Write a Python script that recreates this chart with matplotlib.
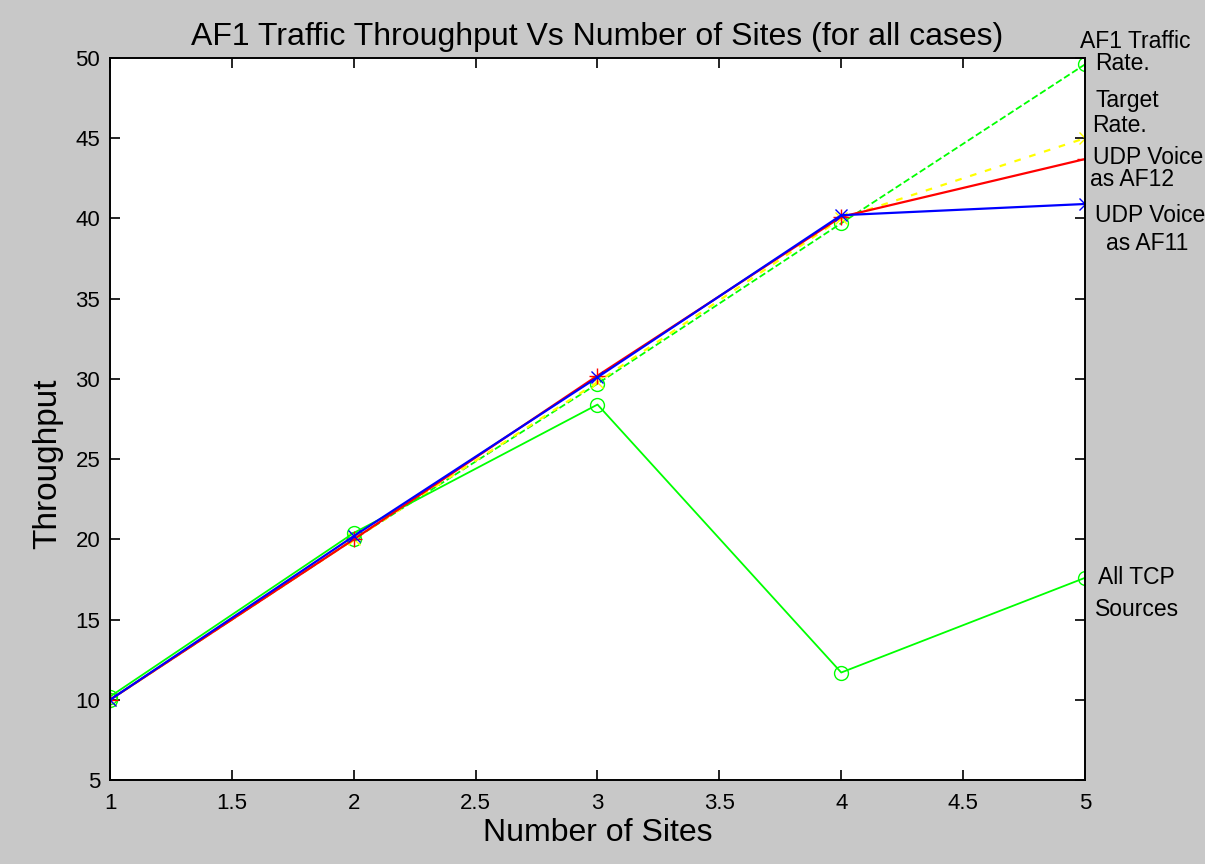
import matplotlib
matplotlib.use("Agg")
import matplotlib.pyplot as plt

plt.rcParams['font.family'] = ['Liberation Sans', 'DejaVu Sans']

sites = [1, 2, 3, 4, 5]
af1_rate = [10, 20, 29.7, 39.7, 49.6]
target_rate = [10, 20, 29.8, 40, 45]
udp_af12 = [10, 20, 30.2, 40.1, 43.7]
udp_af11 = [10, 20.2, 30.1, 40.2, 40.9]
all_tcp = [10.2, 20.4, 28.4, 11.7, 17.6]

# labels at right side: (text, x px, y px of center)
right_labels = [
    ('AF1 Traffic', 1080, 42), ('Rate.', 1095, 63),
    ('Target', 1095, 100), ('Rate.', 1092, 126),
    ('UDP Voice', 1093, 158), ('as AF12', 1090, 180),
    ('UDP Voice', 1095, 216), ('as AF11', 1106, 243),
    ('All TCP', 1098, 577), ('Sources', 1095, 609),
]

W, H = 1205, 864
fig = plt.figure(figsize=(W / 100, H / 100), dpi=100)
fig.patch.set_facecolor('#c8c8c8')
ax = fig.add_axes([0.0913, 0.0972, 0.8091, 0.8357])
ax.set_facecolor('white')

ax.plot(sites, af1_rate, color='#00ff00', linestyle='--', marker='o', markersize=10,
        markerfacecolor='none', linewidth=1.3)
ax.plot(sites, target_rate, color='#ffff00', linestyle=(0, (3, 4)), marker='x', markersize=9,
        linewidth=1.6)
ax.plot(sites, all_tcp, color='#00ff00', linestyle='-', marker='o', markersize=10,
        markerfacecolor='none', linewidth=1.3)
ax.plot(sites, udp_af12, color='#ff0000', linestyle='-', marker='+', markersize=11,
        linewidth=1.6)
ax.plot(sites, udp_af11, color='#0000ff', linestyle='-', marker='x', markersize=8,
        linewidth=1.6)

ax.set_xlim(1, 5)
ax.set_ylim(5, 50)
ax.set_xticks([1, 1.5, 2, 2.5, 3, 3.5, 4, 4.5, 5])
ax.set_xticklabels(['1', '1.5', '2', '2.5', '3', '3.5', '4', '4.5', '5'])
ax.set_yticks(range(5, 51, 5))
ax.tick_params(direction='in', length=7, top=True, right=True, labelsize=16, width=1.2)
ax.tick_params(axis='x', pad=9)
ax.tick_params(axis='y', pad=7)
for s in ax.spines.values():
    s.set_linewidth(1.4)

ax.set_title('AF1 Traffic Throughput Vs Number of Sites (for all cases)', fontsize=23, pad=9)
ax.set_xlabel('Number of Sites', fontsize=23, labelpad=3)
ax.set_ylabel('Throughput', fontsize=24)
ax.yaxis.set_label_coords(-0.048, 0.438)

for txt, px, py in right_labels:
    fig.text(px / W, 1 - py / H, txt, fontsize=16.5, ha='left', va='center')

fig.savefig('out.png', dpi=100, facecolor=fig.get_facecolor())
